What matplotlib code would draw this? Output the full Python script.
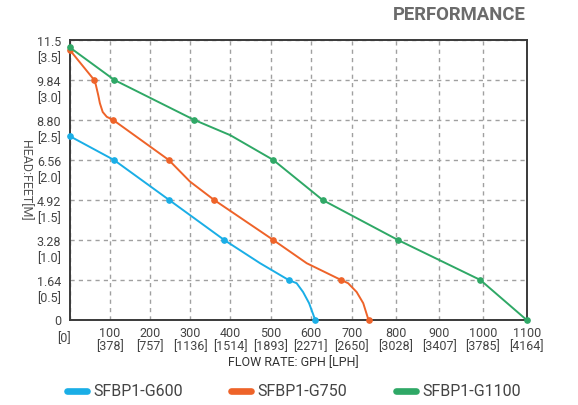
import numpy as np
import matplotlib
matplotlib.use('Agg')
import matplotlib.pyplot as plt
from matplotlib.lines import Line2D
from matplotlib.transforms import ScaledTranslation

plt.rcParams['font.family'] = ['Roboto', 'DejaVu Sans']

# flow ticks [GPH] and their LPH equivalents
flow_ticks = [0, 100, 200, 300, 400, 500, 600, 700, 800, 900, 1000, 1100]
flow_lph = ['0', '378', '757', '1136', '1514', '1893', '2271', '2650', '3028', '3407', '3785', '4164']
# the source graphic does not space its grid evenly, relative spacing of the gridlines
flow_grid = [0, 40.5, 80.5, 120.5, 160.8, 201.0, 241.2, 282.3, 326.3, 369.8, 413.5, 457.2]

# head ticks [M] and labels in feet
head_ticks = [0, 0.5, 1.0, 1.5, 2.0, 2.5, 3.0, 3.5]
head_feet = ['0', '1.64', '3.28', '4.92', '6.56', '8.80', '9.84', '11.5']

# SFBP1-G600
g600_flow = [0, 110, 248, 385, 474, 545, 565, 581, 596, 611]
g600_head = [2.30, 2.00, 1.50, 1.00, 0.71, 0.50, 0.46, 0.35, 0.21, 0.00]
g600_marks = [0, 1, 2, 3, 5, 9]

# SFBP1-G750
g750_flow = [0, 61, 65, 71, 75, 82, 92, 108, 247, 300, 360, 507, 590, 674, 691, 711, 726, 738]
g750_head = [3.38, 3.00, 2.94, 2.81, 2.71, 2.60, 2.54, 2.50, 2.00, 1.73, 1.50, 1.00, 0.71, 0.50, 0.46, 0.35, 0.21, 0.00]
g750_marks = [0, 1, 7, 8, 10, 11, 13, 17]

# SFBP1-G1100
g1100_flow = [0, 111, 311, 400, 507, 629, 805, 994, 1100]
g1100_head = [3.41, 3.00, 2.50, 2.31, 2.00, 1.50, 1.00, 0.50, 0.00]
g1100_marks = [0, 1, 2, 4, 5, 6, 7, 8]

c600 = '#1aaee6'
c750 = '#ee6329'
c1100 = '#2fa866'

fig = plt.figure(figsize=(5.78, 4.05), dpi=100)
ax = fig.add_axes([69.5 / 578, 85 / 405, 457.2 / 578, 280 / 405])


def fwd(v):
    return np.interp(v, flow_ticks, flow_grid)


def inv(v):
    return np.interp(v, flow_grid, flow_ticks)


ax.set_xscale('function', functions=(fwd, inv))

for fx, fy, mk, col in [(g600_flow, g600_head, g600_marks, c600),
                        (g750_flow, g750_head, g750_marks, c750),
                        (g1100_flow, g1100_head, g1100_marks, c1100)]:
    ax.plot(fx, fy, color=col, lw=1.4, marker='o', ms=3.8, markevery=mk, zorder=3, clip_on=False)

ax.set_xlim(0, 1100)
ax.set_ylim(0, 3.5)

ax.set_xticks(flow_ticks)
xl = ['[0]'] + ['%d\n[%s]' % (f, l) for f, l in zip(flow_ticks[1:], flow_lph[1:])]
ax.set_xticklabels(xl, linespacing=1.0)
ax.set_yticks(head_ticks)
yl = ['0'] + ['%s\n[%.1f]' % (f, h) for f, h in zip(head_feet[1:], head_ticks[1:])]
ax.set_yticklabels(yl, linespacing=1.3)
ax.tick_params(length=0, labelsize=9, labelcolor='#444444')
ax.tick_params(axis='x', pad=5)
ax.tick_params(axis='y', pad=6)

# first line of each head label sits on its gridline
for lab in ax.get_yticklabels()[1:]:
    lab.set_transform(lab.get_transform() + ScaledTranslation(0, -0.075, fig.dpi_scale_trans))
lab0 = ax.get_xticklabels()[0]
lab0.set_transform(lab0.get_transform() + ScaledTranslation(-0.06, -0.05, fig.dpi_scale_trans))

ax.grid(True, color='#a0a0a0', lw=1.0, ls=(0, (3, 3)))
for s in ax.spines.values():
    s.set_color('#3a3a3a')
    s.set_linewidth(1.4)

fig.text(293 / 578, 1 - 363 / 405, 'FLOW RATE: GPH [LPH]', ha='center', va='center',
         fontsize=9, color='#333333')
ax.set_ylabel('HEAD:FEET[M]', fontsize=9, color='#555555', rotation=270)
ax.yaxis.set_label_coords(-0.097, 0.5)
ax.yaxis.label.set_va('center')
ax.yaxis.label.set_ha('center')

fig.text(526 / 578, 1 - 15 / 405, 'PERFORMANCE', ha='right', va='center',
         fontsize=13.3, fontweight='bold', color='#6b6b6b')

handles = [Line2D([], [], color=c, lw=4.8, solid_capstyle='round') for c in (c600, c750, c1100)]
fig.legend(handles, ['SFBP1-G600', 'SFBP1-G750', 'SFBP1-G1100'], loc='center',
           bbox_to_anchor=(294 / 578, 13 / 405), ncol=3, frameon=False,
           fontsize=11.5, labelcolor='#444444', handlelength=1.25,
           handletextpad=0.4, columnspacing=3.05, borderpad=0, borderaxespad=0)

fig.savefig('out.png', dpi=100)
